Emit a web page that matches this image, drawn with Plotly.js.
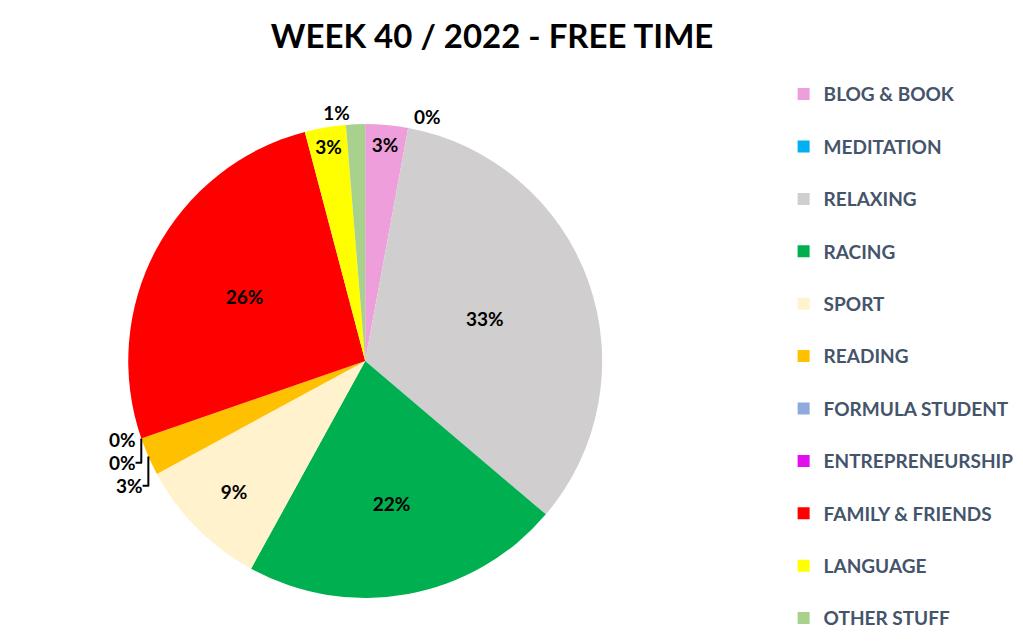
<!DOCTYPE html>
<html>
<head>
<meta charset="utf-8">
<script src="https://cdn.plot.ly/plotly-3.0.1.min.js"></script>
<style>
  html, body { margin: 0; padding: 0; background: #fff; }
  #chart { width: 1023px; height: 643px; }
</style>
</head>
<body>
<div id="chart"></div>
<script>
// activities, in chart order (clockwise from 12 o'clock)
var activities = ['BLOG & BOOK', 'MEDITATION', 'RELAXING', 'RACING', 'SPORT', 'READING',
  'FORMULA STUDENT', 'ENTREPRENEURSHIP', 'FAMILY & FRIENDS', 'LANGUAGE', 'OTHER STUFF'];
// share of free time (%)
var shares = [2.9, 0, 33.3, 21.8, 9.1, 2.6, 0, 0, 26.2, 2.8, 1.3];
var colors = ['#EE9FDB', '#00B0F0', '#D0CECE', '#00B050', '#FFF2CC', '#FFC000',
  '#8EA9DB', '#E10FF0', '#FF0000', '#FFFF00', '#A9D18E'];
var textPos = ['inside', 'outside', 'inside', 'inside', 'inside', 'outside',
  'outside', 'outside', 'inside', 'inside', 'outside'];

var trace = {
  type: 'pie',
  labels: activities.map(function (a) { return a + '<br> '; }),
  values: shares,
  sort: false,
  direction: 'clockwise',
  rotation: 0,
  marker: { colors: colors, line: { width: 0 } },
  textinfo: 'percent',
  texttemplate: '%{percent:.0%}',
  textposition: textPos,
  insidetextorientation: 'horizontal',
  textfont: { family: 'Lato, sans-serif', size: 19, color: '#000', weight: 'bold' },
  outsidetextfont: { family: 'Lato, sans-serif', size: 19, color: '#000', weight: 'bold' },
  automargin: false,
  hoverinfo: 'none',
  domain: { x: [0.124, 0.590], y: [0.070, 0.807] }
};

var layout = {
  width: 1023,
  height: 643,
  margin: { l: 0, r: 0, t: 0, b: 0, autoexpand: false },
  paper_bgcolor: '#fff',
  title: {
    text: 'WEEK 40 / 2022 - FREE TIME',
    font: { family: 'Lato, sans-serif', size: 33, color: '#000', weight: 'bold' },
    x: 0.481, xanchor: 'center', y: 0.944, yanchor: 'middle'
  },
  showlegend: true,
  legend: {
    x: 0.766, xanchor: 'left', y: 0.883, yanchor: 'top',
    valign: 'top',
    traceorder: 'normal',
    font: { family: 'Lato, sans-serif', size: 19, color: '#44546A', weight: 'bold' },
    itemwidth: 30
  }
};

Plotly.newPlot('chart', [trace], layout, { displayModeBar: false, staticPlot: true });
</script>
</body>
</html>
